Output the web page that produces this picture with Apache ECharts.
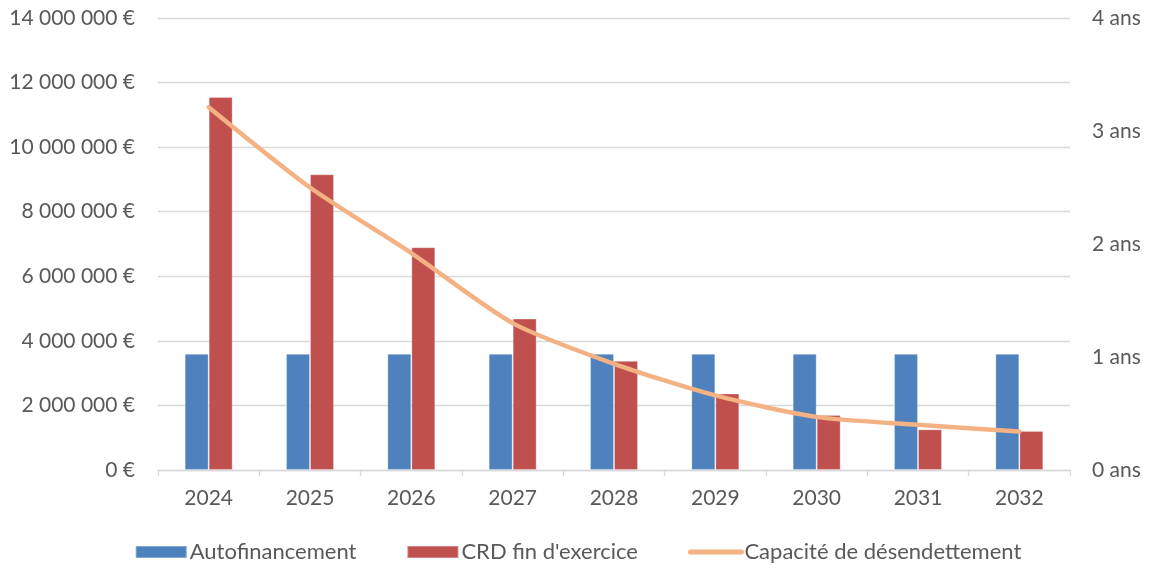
<!DOCTYPE html>
<html>
<head>
<meta charset="utf-8">
<script src="https://cdn.jsdelivr.net/npm/echarts@6/dist/echarts.min.js"></script>
<style>
  html, body { margin: 0; padding: 0; background: #fff; }
  #chart { width: 1156px; height: 570px; }
</style>
</head>
<body>
<div id="chart"></div>
<script>
// Years shown on the category axis
const years = ['2024', '2025', '2026', '2027', '2028', '2029', '2030', '2031', '2032'];
// Self-financing per year (€)
const autofinancement = [3600000, 3600000, 3600000, 3600000, 3600000, 3600000, 3600000, 3600000, 3600000];
// Outstanding debt at year end (€)
const crdFinExercice = [11550000, 9160000, 6900000, 4690000, 3380000, 2370000, 1700000, 1260000, 1210000];
// Debt repayment capacity (years)
const capaciteDesendettement = [3.21, 2.50, 1.92, 1.30, 0.94, 0.66, 0.47, 0.40, 0.34];

const seriesNames = ['Autofinancement', "CRD fin d'exercice", 'Capacité de désendettement'];

const textColor = '#595959';
const gridColor = '#d9d9d9';
const fontFamily = 'Lato, "Open Sans", sans-serif';
const axisFontSize = 21;
const legendFontSize = 22;

function euro(v) {
  return String(Math.round(v)).replace(/\B(?=(\d{3})+(?!\d))/g, ' ') + ' €';
}

const chart = echarts.init(document.getElementById('chart'), null, { renderer: 'canvas' });
chart.setOption({
  animation: false,
  backgroundColor: '#fff',
  textStyle: { fontFamily: fontFamily, color: textColor },
  grid: { left: 158, right: 86, top: 18, bottom: 100, containLabel: false },
  legend: {
    bottom: 2,
    left: 'center',
    itemGap: 50,
    itemWidth: 51,
    itemHeight: 12,
    textStyle: { fontFamily: fontFamily, fontSize: legendFontSize, color: textColor, padding: [0, 0, 0, -2] },
    data: [
      { name: seriesNames[0], icon: 'rect' },
      { name: seriesNames[1], icon: 'rect' },
      { name: seriesNames[2], itemStyle: { opacity: 0 }, lineStyle: { width: 5, cap: 'round' } }
    ]
  },
  xAxis: {
    type: 'category',
    data: years,
    boundaryGap: true,
    axisLine: { lineStyle: { color: gridColor, width: 1.3 } },
    axisTick: { show: true, length: 6, lineStyle: { color: gridColor, width: 1.3 } },
    axisLabel: { fontFamily: fontFamily, fontSize: axisFontSize, color: textColor, margin: 18 }
  },
  yAxis: [
    {
      type: 'value',
      min: 0,
      max: 14000000,
      interval: 2000000,
      axisLine: { show: false },
      axisTick: { show: false },
      splitLine: { lineStyle: { color: gridColor, width: 1.3 } },
      axisLabel: { fontFamily: fontFamily, fontSize: axisFontSize, color: textColor, margin: 23, formatter: euro }
    },
    {
      type: 'value',
      min: 0,
      max: 4,
      interval: 1,
      position: 'right',
      axisLine: { show: false },
      axisTick: { show: false },
      splitLine: { show: false },
      axisLabel: { fontFamily: fontFamily, fontSize: axisFontSize, color: textColor, margin: 22, formatter: '{value} ans' }
    }
  ],
  series: [
    {
      name: seriesNames[0],
      type: 'bar',
      data: autofinancement,
      barWidth: 24,
      barGap: '0%',
      itemStyle: { color: '#4F81BD', borderColor: 'rgba(255,255,255,0.3)', borderWidth: 1 }
    },
    {
      name: seriesNames[1],
      type: 'bar',
      data: crdFinExercice,
      barWidth: 24,
      barGap: '0%',
      itemStyle: { color: '#C0504D', borderColor: 'rgba(255,255,255,0.3)', borderWidth: 1 }
    },
    {
      name: seriesNames[2],
      type: 'line',
      yAxisIndex: 1,
      data: capaciteDesendettement,
      smooth: 0.25,
      symbol: 'none',
      lineStyle: { color: '#F4B183', width: 4.5, cap: 'round', join: 'round' },
      itemStyle: { color: '#F4B183' }
    }
  ]
});
</script>
</body>
</html>
